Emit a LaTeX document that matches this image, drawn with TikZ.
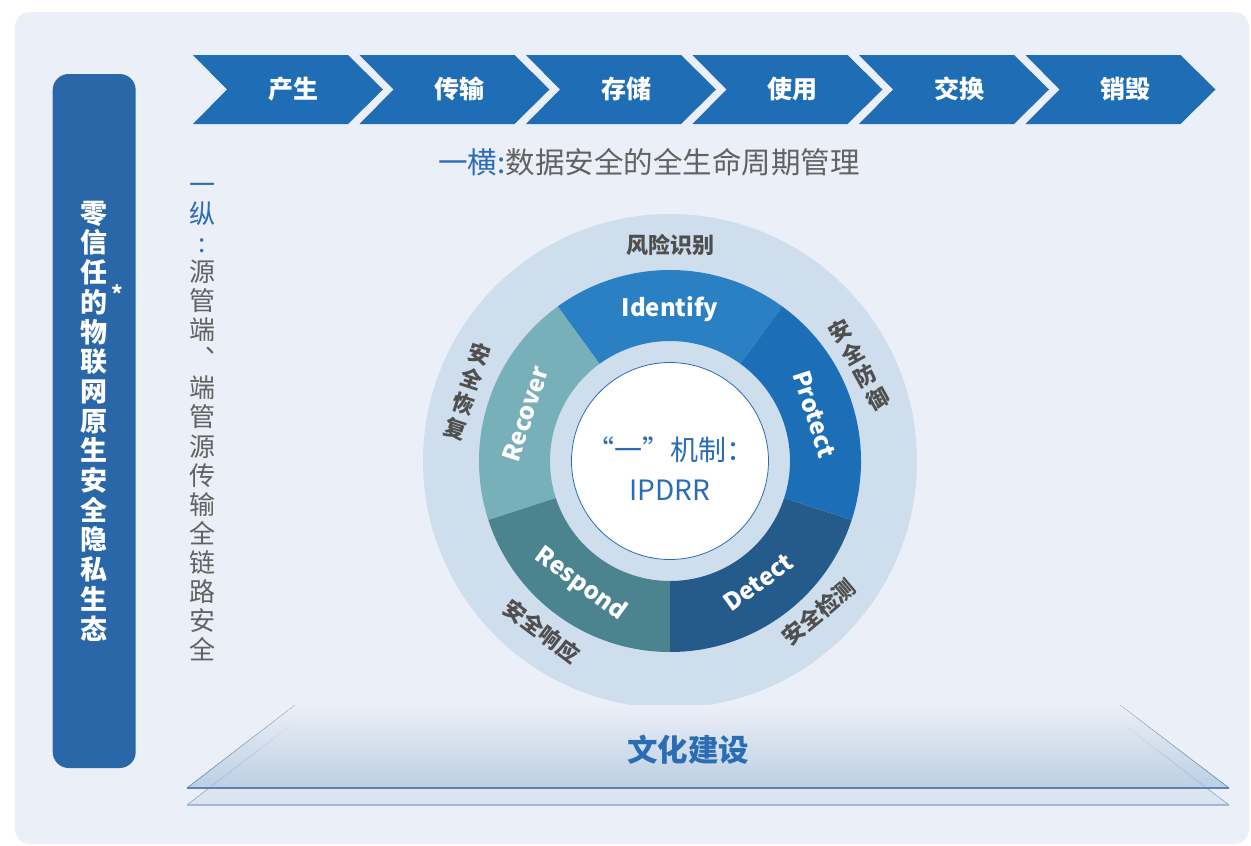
\documentclass[tikz,border=0pt]{standalone}
\usepackage{fontspec}
\setmainfont{Noto Sans CJK SC}
\usetikzlibrary{calc}
\definecolor{bg}{HTML}{EBEFF7}
\definecolor{barblue}{HTML}{2A67A9}
\definecolor{chevblue}{HTML}{1F6DB5}
\definecolor{tblue}{HTML}{2A6DB4}
\definecolor{tgray}{HTML}{626262}
\definecolor{lgray}{HTML}{4F4F4F}
\definecolor{disk}{HTML}{CFDEED}
\definecolor{cIdentify}{HTML}{2B80C3}
\definecolor{cProtect}{HTML}{1C6FB6}
\definecolor{cDetect}{HTML}{255B8B}
\definecolor{cRespond}{HTML}{4B848E}
\definecolor{cRecover}{HTML}{78B0BA}
\definecolor{plateA}{HTML}{BCCFE3}
\definecolor{plateB}{HTML}{D9E3EF}
\definecolor{lineA}{HTML}{5A84B8}
\definecolor{lineB}{HTML}{9DBAD9}
\tikzset{
  chev/.style={fill=chevblue},
  chevtext/.style={text=white, font=\fontsize{25}{30}\selectfont\bfseries, inner sep=0pt},
  segtext/.style={text=white, font=\fontsize{24}{28}\selectfont\bfseries, inner sep=0pt},
  outtext/.style={text=lgray, font=\fontsize{22}{26}\selectfont\bfseries, inner sep=0pt, align=center},
  vtext/.style={align=center, inner sep=0pt},
}
\newcommand{\fadeline}[3]{% color, bottom coord, top coord
  \foreach \k in {0,...,11} {
    \pgfmathsetmacro\ka{\k/12}
    \pgfmathsetmacro\kb{(\k+1)/12}
    \pgfmathsetmacro\op{1-\k/12}
    \draw[#1, line width=0.8pt, draw opacity=\op] ($(#2)!\ka!(#3)$) -- ($(#2)!\kb!(#3)$);
  }
}
\begin{document}
\begin{tikzpicture}[x=1pt,y=-1pt]
\useasboundingbox (0,0) rectangle (1251,846);
\fill[white] (0,0) rectangle (1251,846);
\fill[bg, rounded corners=15pt] (15,12) rectangle (1249,844);

% chevrons
\foreach \i/\t in {0/产生,1/传输,2/存储,3/使用,4/交换,5/销毁} {
  \pgfmathsetmacro\xo{193+166.5*\i}
  \fill[chev] (\xo,55) -- ++(155,0) -- ++(35,34.5) -- ++(-35,34.5) -- ++(-155,0) -- ++(34,-34.5) -- cycle;
  \node[chevtext] (c\i) at (\xo+100,89) {\t};
}

% horizontal title
\node[inner sep=0pt, text=tgray, font=\fontsize{29.5}{32}\selectfont] (htitle) at (649,162) {\textcolor{tblue}{一横:}数据安全的全生命周期管理};

% left bar
\node[fill=barblue, rounded corners=16pt, minimum width=83pt, minimum height=694pt, inner sep=0pt,
      text=white, align=center, font=\fontsize{27}{29.7}\selectfont\bfseries] (bar) at (94.2,421)
  {零\\信\\任\\的\\物\\联\\网\\原\\生\\安\\全\\隐\\私\\生\\态};
\node[text=white, font=\fontsize{22}{24}\selectfont\bfseries, inner sep=0pt, anchor=base] (star) at (117,302) {*};

% vertical gray text
\node[vtext, text=tgray, font=\fontsize{26}{29.1}\selectfont] (vtitle) at (202,422)
  {\textcolor{tblue}{一}\\\textcolor{tblue}{纵}\\\textcolor{tblue}{:}\\源\\管\\端\\︑\\端\\管\\源\\传\\输\\全\\链\\路\\安\\全};

% circle diagram
\begin{scope}[shift={(670,461)}]
  \fill[disk] (0,0) circle[radius=247pt];
  \fill[cIdentify] (54:120pt) arc[start angle=54,end angle=126,radius=120pt] -- (126:191pt) arc[start angle=126,end angle=54,radius=191pt] -- cycle;
  \fill[cRecover] (126:120pt) arc[start angle=126,end angle=198,radius=120pt] -- (198:191pt) arc[start angle=198,end angle=126,radius=191pt] -- cycle;
  \fill[cRespond] (198:120pt) arc[start angle=198,end angle=270,radius=120pt] -- (270:191pt) arc[start angle=270,end angle=198,radius=191pt] -- cycle;
  \fill[cDetect] (270:120pt) arc[start angle=270,end angle=342,radius=120pt] -- (342:191pt) arc[start angle=342,end angle=270,radius=191pt] -- cycle;
  \fill[cProtect] (-18:120pt) arc[start angle=-18,end angle=54,radius=120pt] -- (54:191pt) arc[start angle=54,end angle=-18,radius=191pt] -- cycle;
  \node[circle, fill=white, draw=tblue, line width=0.8pt, minimum size=197pt, inner sep=0pt] (core) at (0,0) {};
  \node[text=tblue, align=center, inner sep=0pt, font=\fontsize{28}{40}\selectfont] (coretext) at (0,8) {“一”机制：\\IPDRR};

  \node[segtext] (identify) at (90:152pt) {Identify};
  \node[segtext, rotate=-72] (protect) at (18:152pt) {Protect};
  \node[segtext, rotate=36] (detect) at (-54:150pt) {Detect};
  \node[segtext, rotate=-36] (respond) at (234:152pt) {Respond};
  \node[segtext, rotate=72] (recover) at (162:152pt) {Recover};

  \node[outtext] (o1) at (90:216pt) {风险识别};
  \node[outtext, rotate=29] (o2) at (27:212pt) {安\\全\\防\\御};
  \node[outtext, rotate=40] (o3) at (-45.5:212pt) {安全检测};
  \node[outtext, rotate=-37] (o4) at (233:213pt) {安全响应};
  \node[outtext, rotate=-18] (o5) at (161:214pt) {安\\全\\恢\\复};
\end{scope}

% plate corners
\coordinate (lbl) at (187,805); \coordinate (lbr) at (1229,805);
\coordinate (ltl) at (295,722); \coordinate (ltr) at (1120,722);
\coordinate (ubl) at (187,788); \coordinate (ubr) at (1229,788);
\coordinate (utl) at (295,705); \coordinate (utr) at (1120,705);

% plates
\fill[top color=bg, bottom color=plateB] (ltl) -- (ltr) -- (lbr) -- (lbl) -- cycle;
\draw[lineB, line width=2pt] (lbl) -- (lbr);

\fill[top color=bg, bottom color=plateA] (utl) -- (utr) -- (ubr) -- (ubl) -- cycle;
\fadeline{lineB}{lbl}{ltl}
\fadeline{lineB}{lbr}{ltr}
\fadeline{lineA!80}{ubl}{utl}
\fadeline{lineA!80}{ubr}{utr}
\draw[lineA, line width=1.5pt] (ubl) -- (ubr);

\node[text=tblue, font=\fontsize{30.5}{32}\selectfont\bfseries, inner sep=0pt] (culture) at (688,750) {文化建设};
\end{tikzpicture}
\end{document}
